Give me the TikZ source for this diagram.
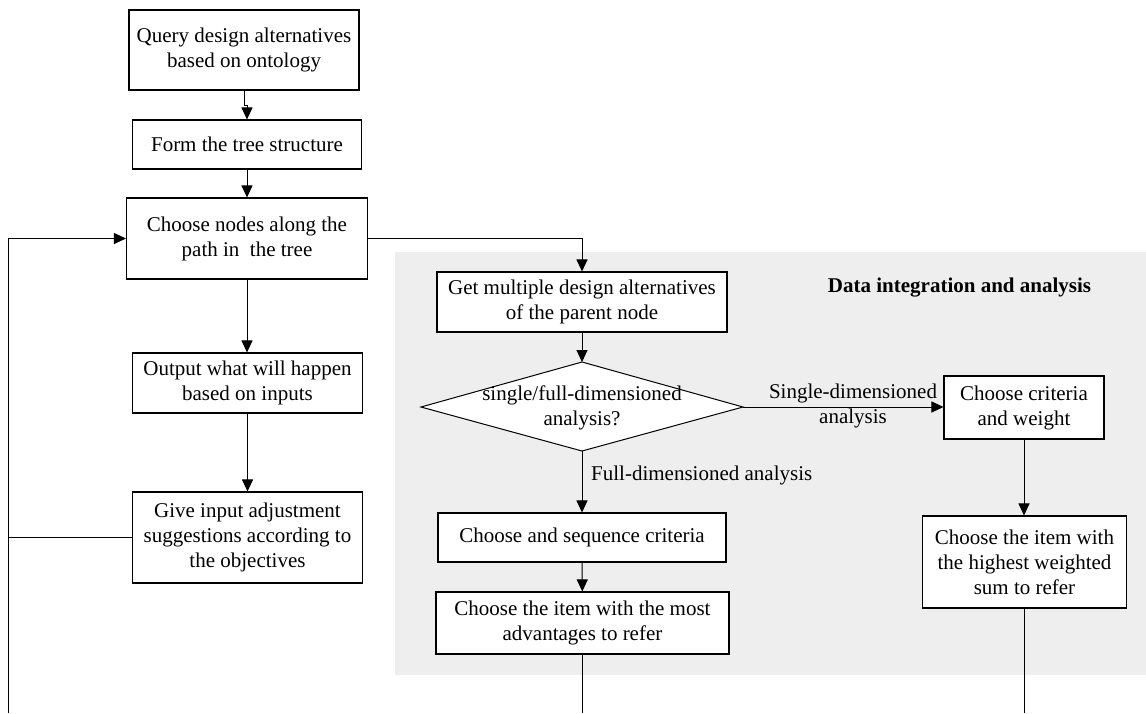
\documentclass[tikz,border=0pt]{standalone}
\usepackage{fontspec}
\setmainfont{Liberation Serif}
\usetikzlibrary{arrows.meta}
\definecolor{panelgray}{RGB}{238,238,238}
\begin{document}
\begin{tikzpicture}[x=1pt,y=-1pt,
  font=\fontsize{21}{25}\selectfont,
  box/.style={draw, line width=1.1pt, fill=white, align=center, inner sep=0pt},
  conn/.style={line width=1pt, -{Triangle[length=12pt,width=11pt]}},
  link/.style={line width=1pt},
  lbl/.style={align=center, inner sep=0pt}]
\useasboundingbox (0,0) rectangle (1146,713);

% shaded panel for the analysis part
\fill[panelgray] (395,252) rectangle (1146,675);
\node[lbl, font=\fontsize{21}{25}\selectfont\bfseries] (title) at (959.5,288) {Data integration and analysis};

% left column
\node[box, minimum width=230pt, minimum height=80pt] (query) at (244,50) {Query design alternatives\\based on ontology};
\node[box, minimum width=229pt, minimum height=49pt] (tree) at (247,144.5) {Form the tree structure};
\node[box, minimum width=241pt, minimum height=81pt] (choose) at (247,238.5) {Choose nodes along the\\path in\ \ the tree};
\node[box, minimum width=230pt, minimum height=60pt] (output) at (247.5,383) {Output what will happen\\based on inputs};
\node[box, minimum width=230pt, minimum height=91pt] (give) at (247.5,537.5) {Give input adjustment\\suggestions according to\\the objectives};

% analysis column
\node[box, minimum width=290pt, minimum height=60pt] (get) at (582,302) {Get multiple design alternatives\\of the parent node};
\coordinate (dT) at (582,362);
\coordinate (dR) at (743,407);
\coordinate (dB) at (582,451);
\coordinate (dL) at (421,407);
\draw[fill=white, line width=1pt] (dT) -- (dR) -- (dB) -- (dL) -- cycle;
\node[lbl] (dec) at (582,407.5) {single/full-dimensioned\\analysis?};
\node[box, minimum width=288pt, minimum height=49pt] (seq) at (582,537.5) {Choose and sequence criteria};
\node[box, minimum width=293pt, minimum height=62pt] (most) at (582.5,623) {Choose the item with the most\\advantages to refer};
\node[box, minimum width=160pt, minimum height=63pt] (crit) at (1024,407.5) {Choose criteria\\and weight};
\node[box, minimum width=204pt, minimum height=92pt] (high) at (1024.5,562) {Choose the item with\\the highest weighted\\sum to refer};

% branch labels
\node[lbl] (single) at (853,406) {Single-dimensioned\\analysis};
\node[lbl, anchor=west] (full) at (591,475) {Full-dimensioned analysis};

% loose ends at the lower edge
\coordinate (loopbot) at (8,713);
\coordinate (mostend) at (582.5,713);
\coordinate (highend) at (1024.5,713);

% connectors
\draw[conn] (query.south) -- ++(0,15) -| (tree.north);
\draw[conn] (tree) -- (choose);
\draw[conn] (choose.south) -- (choose.south |- output.north);
\draw[conn] (output) -- (output |- give.north);
\draw[conn] (choose.east) -| (get.north);
\draw[conn] (get) -- (dT);
\draw[conn] (dR) -- (dR -| crit.west);
\draw[conn] (dB) -- (seq.north);
\draw[conn] (seq) -- (most);
\draw[conn] (crit) -- (crit |- high.north);
\draw[conn] (loopbot) |- (choose.west);
\draw[link] (give.west) -- (give.west -| loopbot);
\draw[link] (most.south) -- (mostend);
\draw[link] (high.south) -- (highend);
\end{tikzpicture}
\end{document}
